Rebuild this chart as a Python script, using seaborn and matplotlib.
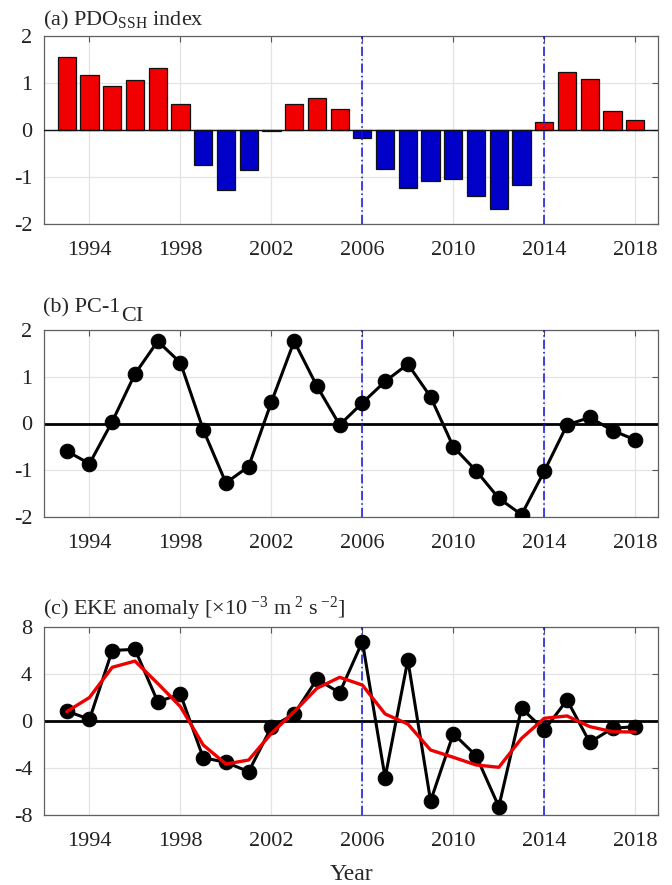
import numpy as np
import pandas as pd
import matplotlib
matplotlib.use("Agg")
import matplotlib.pyplot as plt
import matplotlib.transforms as mtransforms
import seaborn as sns

sns.set_style("white")
plt.rcParams["font.family"] = ["Liberation Serif", "DejaVu Serif"]
plt.rcParams["mathtext.fontset"] = "custom"
plt.rcParams["mathtext.rm"] = "Liberation Serif"
plt.rcParams["mathtext.it"] = "Liberation Serif:italic"
plt.rcParams["axes.unicode_minus"] = False

# ---- data ----
years = list(range(1993, 2019))
pdo_ssh = [1.55, 1.16, 0.93, 1.07, 1.32, 0.56, -0.75, -1.27, -0.86, -0.02,
           0.55, 0.69, 0.44, -0.16, -0.83, -1.24, -1.09, -1.04, -1.41, -1.68,
           -1.16, 0.16, 1.24, 1.09, 0.41, 0.21]
pc1_ci = [-0.59, -0.86, 0.04, 1.06, 1.76, 1.30, -0.13, -1.27, -0.92, 0.46,
          1.76, 0.80, -0.03, 0.44, 0.90, 1.27, 0.57, -0.50, -1.01, -1.60,
          -1.95, -1.02, -0.03, 0.13, -0.15, -0.35]
eke_anom = [0.85, 0.14, 6.0, 6.1, 1.65, 2.27, -3.12, -3.52, -4.31, -0.51,
            0.6, 3.55, 2.41, 6.75, -4.82, 5.19, -6.81, -1.08, -2.95, -7.29,
            1.08, -0.77, 1.79, -1.82, -0.62, -0.48]
eke_smooth = [0.8, 2.0, 4.57, 5.1, 3.2, 1.22, -2.04, -3.66, -3.32, -1.05,
              0.79, 2.78, 3.72, 3.06, 0.6, -0.26, -2.47, -3.09, -3.74, -3.94,
              -1.48, 0.23, 0.43, -0.48, -0.91, -0.94]
regime_shifts = [2006, 2014]
xticks = [1994, 1998, 2002, 2006, 2010, 2014, 2018]

RED = "#f00000"
BLUE = "#0000c8"
FS = 16

W, H = 672, 885
fig = plt.figure(figsize=(W / 100, H / 100), dpi=100)


def make_axes(top, bottom, left=44, right=658):
    return fig.add_axes([left / W, 1 - bottom / H, (right - left) / W, (bottom - top) / H])


def style(ax, ylim, yticks):
    ax.set_xlim(1992, 2019)
    ax.set_ylim(*ylim)
    ax.set_xticks(xticks)
    ax.set_xticklabels([str(t) for t in xticks])
    ax.set_yticks(yticks)
    ax.set_yticklabels([str(t) for t in yticks])
    ax.grid(True, color="#e3e3e3", lw=0.9)
    ax.set_axisbelow(True)
    ax.tick_params(direction="in", top=True, right=True, length=4.5,
                   width=0.8, color="#555555", labelsize=FS, labelcolor="#222222")
    ax.tick_params(axis="x", pad=12.5)
    ax.tick_params(axis="y", pad=8.5)
    for s in ax.spines.values():
        s.set_color("#606060")
        s.set_linewidth(0.9)
    ax.set_xlabel("")
    ax.set_ylabel("")
    for x in regime_shifts:
        ax.axvline(x, color="#1010e0", lw=1.1, dashes=(6, 2, 1, 2), zorder=4)


def panel_title(ax, text, dy_px):
    tr = mtransforms.offset_copy(ax.transAxes, fig=fig, x=-1, y=dy_px, units="dots")
    return ax.text(0, 1, text, transform=tr, fontsize=FS, ha="left", va="baseline")


# ---- (a) PDO index bars ----
ax1 = make_axes(36, 224)
df_a = pd.DataFrame({"year": years, "pdo": pdo_ssh,
                     "phase": ["pos" if v >= 0 else "neg" for v in pdo_ssh]})
sns.barplot(data=df_a, x="year", y="pdo", hue="phase",
            palette={"pos": RED, "neg": BLUE}, saturation=1, native_scale=True,
            dodge=False, width=0.8, edgecolor="#111111", linewidth=0.9,
            errorbar=None, legend=False, ax=ax1, zorder=3)
ax1.axhline(0, color="#111111", lw=1.0, zorder=3.5)
style(ax1, (-2, 2), [-2, -1, 0, 1, 2])
panel_title(ax1, r"(a) PDO$_{\mathrm{SSH}}$ index", 11)

# ---- (b) PC-1 of the CI ----
ax2 = make_axes(330, 517)
ax2.axhline(0, color="black", lw=2.0, zorder=2)
sns.lineplot(x=years, y=pc1_ci, color="black", lw=2.2, marker="o",
             markersize=10.5, markeredgecolor="black", ax=ax2, zorder=5)
style(ax2, (-2, 2), [-2, -1, 0, 1, 2])
t = panel_title(ax2, "(b) PC-1", 18)
fig.canvas.draw()
bb = t.get_window_extent()
# lowered "CI" tag set right after the main title text
ax2.text(bb.x1 + 1, bb.y0, "CI", fontsize=FS, ha="left", va="bottom",
         transform=mtransforms.offset_copy(mtransforms.IdentityTransform(), fig=fig,
                                           x=0, y=-9, units="dots"))

# ---- (c) EKE anomaly ----
ax3 = make_axes(627, 815)
ax3.axhline(0, color="black", lw=2.0, zorder=2)
sns.lineplot(x=years, y=eke_anom, color="black", lw=2.2, marker="o",
             markersize=10.5, markeredgecolor="black", ax=ax3, zorder=5)
sns.lineplot(x=years, y=eke_smooth, color="#ee0000", lw=2.4, ax=ax3, zorder=6)
style(ax3, (-8, 8), [-8, -4, 0, 4, 8])
panel_title(ax3, r"(c) EKE anomaly [×10$^{\ \mathrm{-3}}$ m$^{\ \mathrm{2}}$ s$^{\ \mathrm{-2}}$]", 12)
ax3.set_xlabel("Year", fontsize=FS + 1, labelpad=9)

fig.savefig("out.png", dpi=100)
